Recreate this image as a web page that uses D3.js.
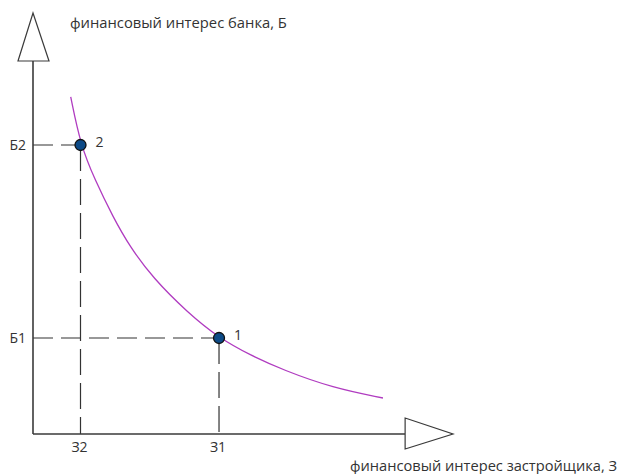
<!DOCTYPE html>
<html><head><meta charset="utf-8">
<script src="https://cdn.jsdelivr.net/npm/d3@7"></script>
<style>html,body{margin:0;padding:0;background:#fff;}svg{display:block;}text{font-family:"Open Sans","Noto Sans",sans-serif;fill:#333;}</style>
</head><body><svg id="c" width="620" height="474"></svg>
<script>
// curve samples (abstract units)
const curveX = [0.898, 1.131, 1.476, 1.905, 2.310, 2.857, 3.667, 4.429, 5.167, 5.952, 7.143, 8.333];
const curveY = [8.005, 6.865, 6.033, 5.154, 4.442, 3.705, 2.898, 2.280, 1.876, 1.520, 1.093, 0.855];
// marked points
const ptLabels = ["1", "2"];
const ptX = [4.429, 1.131];
const ptY = [2.280, 6.865];
const xTickLabels = ["З1", "З2"];
const yTickLabels = ["Б1", "Б2"];
const yTitle = "финансовый интерес банка, Б";
const xTitle = "финансовый интерес застройщика, З";

const svg = d3.select("#c");
const x = d3.scaleLinear().domain([0, 10]).range([33, 453]);
const y = d3.scaleLinear().domain([0, 10]).range([434, 13]);

const axisCol = "#3a3a3a";
// dashed guides
ptX.forEach((vx, i) => {
  svg.append("line").attr("x1", x(0)).attr("x2", x(vx)).attr("y1", y(ptY[i])).attr("y2", y(ptY[i]))
    .attr("stroke", "#333").attr("stroke-width", 1.2).attr("stroke-dasharray", "20,8");
  svg.append("line").attr("x1", x(vx)).attr("x2", x(vx)).attr("y1", y(ptY[i])).attr("y2", y(0))
    .attr("stroke", "#333").attr("stroke-width", 1.2).attr("stroke-dasharray", "26,8");
});

// axes
const aEnd = 8.86;
svg.append("line").attr("x1", x(0)).attr("x2", x(0)).attr("y1", y(0)).attr("y2", y(aEnd))
  .attr("stroke", axisCol).attr("stroke-width", 1.6);
svg.append("line").attr("x1", x(0)).attr("x2", x(aEnd)).attr("y1", y(0)).attr("y2", y(0))
  .attr("stroke", axisCol).attr("stroke-width", 1.6);
// arrow heads (open triangles)
const ax0 = x(0), ay0 = y(0);
svg.append("path").attr("d", `M${ax0-15},${y(aEnd)} L${ax0+16},${y(aEnd)} L${ax0},${y(10)} Z`)
  .attr("fill", "#fff").attr("stroke", axisCol).attr("stroke-width", 1.2);
svg.append("path").attr("d", `M${x(aEnd)},${ay0-16} L${x(aEnd)},${ay0+15} L${x(10)},${ay0} Z`)
  .attr("fill", "#fff").attr("stroke", axisCol).attr("stroke-width", 1.2);

// curve
const pts = curveX.map((v, i) => [x(v), y(curveY[i])]);
svg.append("path").attr("d", d3.line().curve(d3.curveBasis)(pts))
  .attr("fill", "none").attr("stroke", "#b03cc0").attr("stroke-width", 1.3);

// points
ptX.forEach((vx, i) => {
  svg.append("circle").attr("cx", x(vx)).attr("cy", y(ptY[i])).attr("r", 5.5)
    .attr("fill", "#0d4a86").attr("stroke", "#111").attr("stroke-width", 1.3);
  svg.append("text").attr("x", x(vx) + 15).attr("y", y(ptY[i]) + 2).attr("font-size", 14).text(ptLabels[i]);
});

// tick labels
ptX.forEach((vx, i) => {
  svg.append("text").attr("x", x(vx) - 1).attr("y", 452).attr("text-anchor", "middle").attr("font-size", 14).text(xTickLabels[i]);
  svg.append("text").attr("x", 26).attr("y", y(ptY[i]) + 5).attr("text-anchor", "end").attr("font-size", 14).text(yTickLabels[i]);
});

// titles, sized to the reference widths
function fit(t, w) {
  const l = t.node().getComputedTextLength();
  t.attr("font-size", 13 * w / l);
}
const yt = svg.append("text").attr("x", 70).attr("y", 28).attr("font-size", 13).text(yTitle);
fit(yt, 217);
const xt = svg.append("text").attr("x", 617).attr("y", 471).attr("text-anchor", "end").attr("font-size", 13).text(xTitle);
fit(xt, 267);
</script></body></html>
